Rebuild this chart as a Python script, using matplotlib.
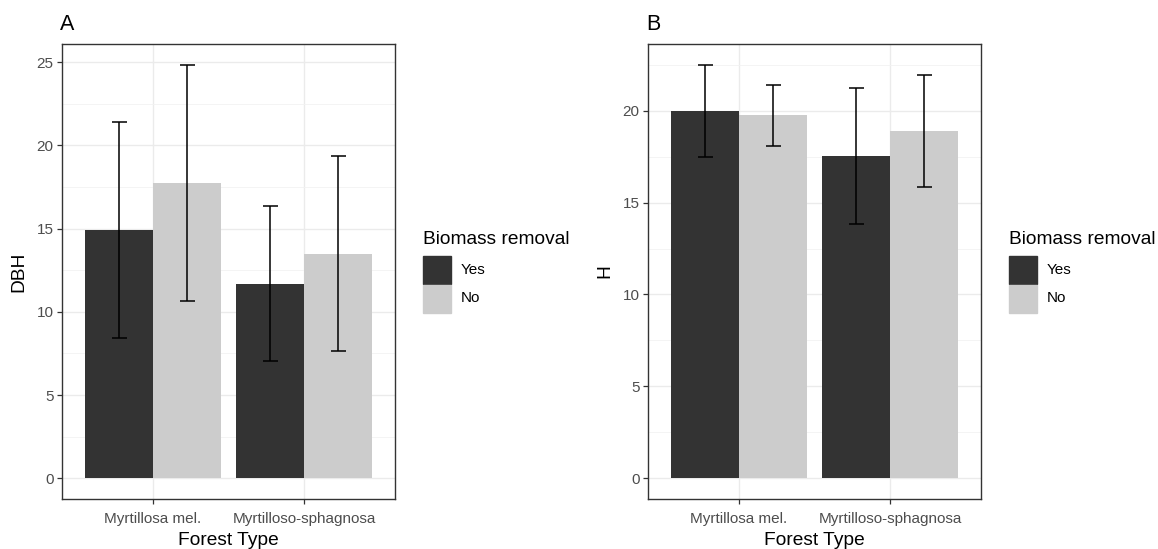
import numpy as np
import matplotlib
matplotlib.use("Agg")
import matplotlib.pyplot as plt
from matplotlib.patches import Rectangle

plt.rcParams['font.family'] = ['Liberation Sans', 'DejaVu Sans']

forest_types = ["Myrtillosa mel.", "Myrtilloso-sphagnosa"]
removal = ["Yes", "No"]

dbh_mean = {"Yes": [14.9, 11.7], "No": [17.75, 13.5]}
dbh_sd = {"Yes": [6.5, 4.65], "No": [7.1, 5.85]}
h_mean = {"Yes": [20.0, 17.53], "No": [19.74, 18.9]}
h_sd = {"Yes": [2.5, 3.7], "No": [1.65, 3.05]}

fill = {"Yes": "#333333", "No": "#cccccc"}

W, H = 1158, 549
fig = plt.figure(figsize=(W / 100, H / 100), dpi=100)


def px_axes(left, top, right, bottom):
    return fig.add_axes([left / W, 1 - bottom / H, (right - left) / W, (bottom - top) / H])


def panel(ax, means, sds, ylabel, tag, yticks):
    x = np.arange(1, len(forest_types) + 1)
    bw = 0.45
    for i, r in enumerate(removal):
        xs = x - bw / 2 + i * bw
        ax.bar(xs, means[r], width=bw, color=fill[r], zorder=2)
        ax.errorbar(xs, means[r], yerr=sds[r], fmt="none", ecolor="black",
                    elinewidth=1.1, capsize=5.4, capthick=1.1, zorder=3)
    top = max((np.array(means[r]) + np.array(sds[r])).max() for r in removal)
    pad = top * 0.05
    ax.set_ylim(-pad, top + pad)
    ax.set_xlim(0.4, 2.6)
    ax.set_xticks(x)
    ax.set_xticklabels(forest_types)
    ax.set_yticks(yticks)
    minor = [(a + b) / 2 for a, b in zip(yticks[:-1], yticks[1:])]
    if yticks[-1] + 2.5 < top + pad:
        minor.append(yticks[-1] + 2.5)
    ax.set_yticks(minor, minor=True)
    ax.set_xticks([], minor=True)
    ax.grid(which="major", color="#ebebeb", lw=1.0, zorder=0)
    ax.grid(which="minor", axis="y", color="#f2f2f2", lw=0.6, zorder=0)
    ax.set_axisbelow(True)
    for s in ax.spines.values():
        s.set_color("#333333")
        s.set_linewidth(1.0)
    ax.tick_params(which="major", length=3.5, width=0.9, color="#333333",
                   labelsize=11, labelcolor="#4d4d4d", pad=2.5)
    ax.tick_params(axis="x", which="major", pad=5.5)
    ax.tick_params(which="minor", length=0)
    ax.set_xlabel("Forest Type", fontsize=13.8, labelpad=5)
    ax.set_ylabel(ylabel, fontsize=13.8)
    ax.set_title(tag, loc="left", fontsize=15.5, pad=10, x=-0.005)


axA = px_axes(62, 44, 395, 499)
panel(axA, dbh_mean, dbh_sd, "DBH", "A", [0, 5, 10, 15, 20, 25])
axA.yaxis.set_label_coords(-35 / 333, 0.5)

axB = px_axes(648, 44, 981, 499)
panel(axB, h_mean, h_sd, "H", "B", [0, 5, 10, 15, 20])
axB.yaxis.set_label_coords(-35 / 333, 0.5)


def legend(x0):
    fig.text(x0 / W, 1 - 239 / H, "Biomass removal", fontsize=13.8,
             va="center", ha="left")
    for i, r in enumerate(removal):
        y_top = 256 + i * 28.5
        fig.patches.append(Rectangle((x0 / W, 1 - (y_top + 28.5) / H), 27.5 / W, 28.5 / H,
                                     transform=fig.transFigure, color=fill[r]))
        fig.text((x0 + 38) / W, 1 - (y_top + 14) / H, r, fontsize=11,
                 va="center", ha="left")


legend(423)
legend(1009)

fig.savefig("out.png", dpi=100)
